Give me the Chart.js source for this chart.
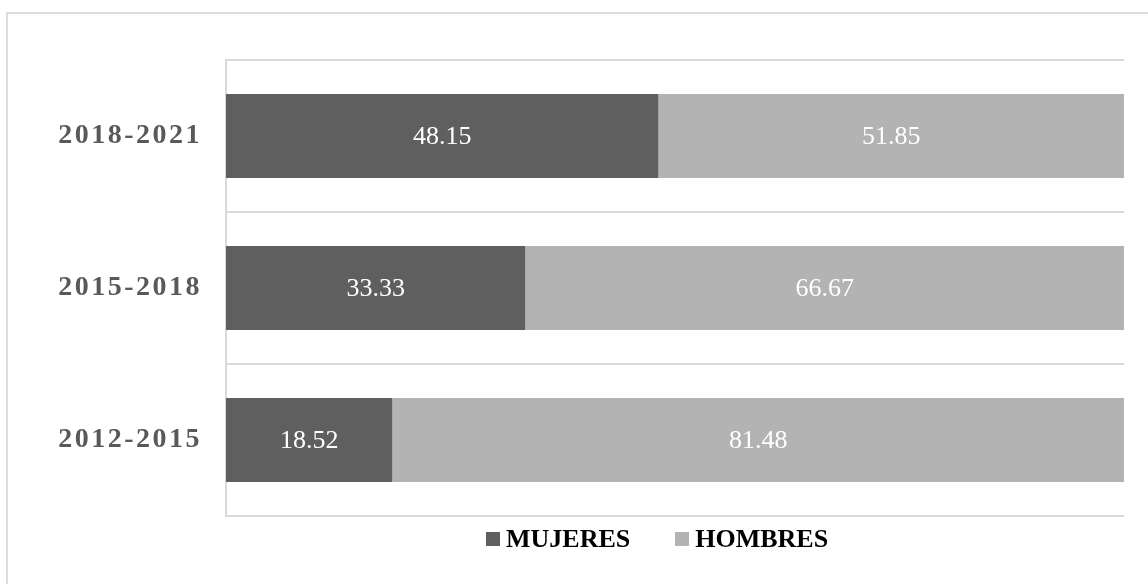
<!DOCTYPE html>
<html>
<head>
<meta charset="utf-8">
<script src="https://cdn.jsdelivr.net/npm/chart.js@4/dist/chart.umd.min.js"></script>
<style>
  html, body { margin: 0; padding: 0; background: #fff; }
  #wrap { position: relative; width: 1148px; height: 584px; overflow: hidden; }
  #frame {
    position: absolute; left: 6px; top: 12px; width: 1200px; height: 640px;
    border-top: 2px solid #dcdcdc; border-left: 2px solid #dcdcdc;
  }
  #chart { position: absolute; left: 0; top: 0; }
  #legend {
    position: absolute; left: 486px; top: 524px;
    display: flex; align-items: center; gap: 45px;
    font-family: 'Liberation Serif', 'Times New Roman', serif;
    font-weight: bold; font-size: 26px; color: #000;
  }
  #legend .item { display: flex; align-items: center; gap: 6px; }
  #legend .box { width: 14px; height: 14px; }
</style>
</head>
<body>
<div id="wrap">
  <div id="frame"></div>
  <canvas id="chart" width="1148" height="584"></canvas>
  <div id="legend"></div>
</div>
<script>
const periods = ['2018-2021', '2015-2018', '2012-2015'];
const mujeres = [48.15, 33.33, 18.52];
const hombres = [51.85, 66.67, 81.48];
const seriesNames = ['MUJERES', 'HOMBRES'];
const seriesColors = ['#5f5f5f', '#b3b3b3'];

const serif = "'Liberation Serif', 'Times New Roman', serif";
Chart.defaults.font.family = serif;

// spaced-out period labels on the y axis (scale layers are drawn before datasets)
const spacedTicks = {
  id: 'spacedTicks',
  beforeDraw(chart) { chart.ctx.letterSpacing = '2.5px'; },
  beforeDatasetsDraw(chart) { chart.ctx.letterSpacing = '0px'; }
};

// value written in the middle of every bar segment
const barValues = {
  id: 'barValues',
  afterDatasetsDraw(chart) {
    const ctx = chart.ctx;
    ctx.save();
    ctx.font = '26px ' + serif;
    ctx.fillStyle = '#ffffff';
    ctx.textAlign = 'center';
    ctx.textBaseline = 'middle';
    chart.data.datasets.forEach((ds, i) => {
      chart.getDatasetMeta(i).data.forEach((bar, j) => {
        const p = bar.getProps(['x', 'y', 'base'], true);
        ctx.fillText(ds.data[j].toFixed(2), (p.x + p.base) / 2, p.y + 1);
      });
    });
    ctx.restore();
  }
};

const chart = new Chart(document.getElementById('chart'), {
  type: 'bar',
  data: {
    labels: periods,
    datasets: [
      { label: seriesNames[0], data: mujeres, backgroundColor: seriesColors[0] },
      { label: seriesNames[1], data: hombres, backgroundColor: seriesColors[1] }
    ]
  },
  options: {
    indexAxis: 'y',
    responsive: false,
    animation: false,
    events: [],
    categoryPercentage: 0.553,
    barPercentage: 1,
    layout: { padding: { top: 60, right: 24, bottom: 68, left: 0 } },
    plugins: {
      legend: { display: false },
      tooltip: { enabled: false }
    },
    scales: {
      x: {
        stacked: true,
        min: 0,
        max: 100,
        display: false
      },
      y: {
        stacked: true,
        afterFit(scale) { scale.width = 226; },
        grid: { color: '#d9d9d9', lineWidth: 2, drawTicks: false },
        border: { display: true, color: '#d9d9d9', width: 2 },
        ticks: {
          padding: 24,
          color: '#595959',
          font: { family: serif, size: 28, weight: 'bold' }
        }
      }
    }
  },
  plugins: [spacedTicks, barValues]
});

// legend row built from the datasets
const legendEl = document.getElementById('legend');
chart.data.datasets.forEach(ds => {
  const item = document.createElement('div');
  item.className = 'item';
  const box = document.createElement('span');
  box.className = 'box';
  box.style.background = ds.backgroundColor;
  const txt = document.createElement('span');
  txt.textContent = ds.label;
  item.appendChild(box);
  item.appendChild(txt);
  legendEl.appendChild(item);
});
</script>
</body>
</html>
